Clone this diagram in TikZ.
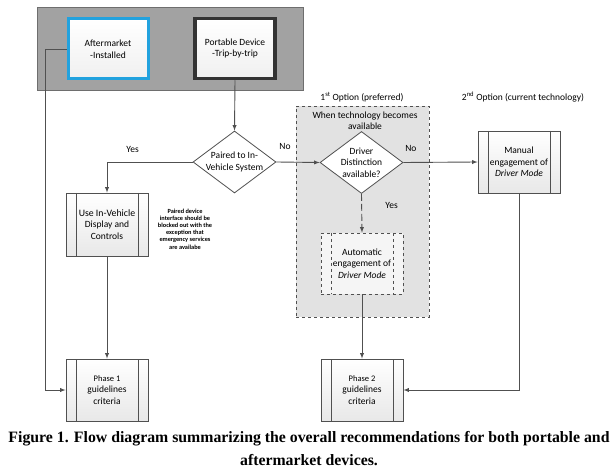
\documentclass[tikz,border=0pt]{standalone}
\usepackage{fontspec}
\setmainfont{Carlito}
\newfontfamily\capfont{Liberation Serif}
\usetikzlibrary{shapes.geometric}

\definecolor{linegray}{HTML}{505050}
\definecolor{darkbox}{HTML}{6E6E6E}
\definecolor{midgray}{HTML}{A2A2A2}
\definecolor{optgray}{HTML}{E2E2E2}
\definecolor{aftblue}{HTML}{22A2DE}

\tikzset{
  every node/.style={font=\fontsize{9.5}{11.5}\selectfont, align=center, text=black},
  procbox/.style={draw=linegray, line width=0.8pt, top color=white, bottom color=black!9,
    minimum width=82pt, minimum height=62pt, inner sep=0pt,
    path picture={
      \draw[linegray, line width=0.8pt] ([xshift=10pt]path picture bounding box.north west) -- ([xshift=10pt]path picture bounding box.south west);
      \draw[linegray, line width=0.8pt] ([xshift=-10pt]path picture bounding box.north east) -- ([xshift=-10pt]path picture bounding box.south east);
    }},
  autobox/.style={draw=linegray, dashed, line width=0.7pt, fill=white!96!black,
    minimum width=82pt, minimum height=61pt, inner sep=0pt,
    path picture={
      \draw[linegray, dashed, line width=0.7pt] ([xshift=10pt]path picture bounding box.north west) -- ([xshift=10pt]path picture bounding box.south west);
      \draw[linegray, dashed, line width=0.7pt] ([xshift=-10pt]path picture bounding box.north east) -- ([xshift=-10pt]path picture bounding box.south east);
    }},
  devbox/.style={top color=white, bottom color=black!6, minimum width=80pt, minimum height=60pt},
  decision/.style={diamond, draw=linegray, line width=0.8pt, fill=white, inner sep=0pt,
    minimum width=83pt, minimum height=62pt},
  flow/.style={->, color=linegray, line width=0.9pt},
}

\begin{document}
\begin{tikzpicture}[x=1pt, y=-1pt, >=latex]
  \useasboundingbox (0,0) rectangle (616,473);

  % devices
  \node[draw=darkbox, fill=midgray, line width=0.8pt, minimum width=266pt, minimum height=83pt] (dev) at (170,48.5) {};
  \node[devbox, draw=aftblue, line width=3pt] (after) at (108,49) {Aftermarket\\-Installed};
  \node[devbox, draw=black!80, line width=3.5pt] (port) at (235,48.5) {Portable Device\\-Trip-by-trip};

  % option labels
  \node (opt1lbl) at (362,97) {1\textsuperscript{st} Option (preferred)};
  \node (opt2lbl) at (523,97) {2\textsuperscript{nd} Option (current technology)};
  \node[draw=linegray, dashed, fill=optgray, line width=0.7pt, minimum width=133pt, minimum height=211pt] (opt1) at (362.5,211.5) {};
  \node (tech) at (365,120.5) {When technology becomes\\available};

  % decisions
  \node[decision, label={[align=center]center:Paired to In-\\Vehicle System}] (paired) at (234.5,162) {};
  \node[decision, label={[align=center]center:Driver\\Distinction\\available?}] (driver) at (361.5,162.5) {};

  % processes
  \node[procbox, minimum height=63pt] (inveh) at (107,224.5) {\fontsize{9.8}{11.5}\selectfont Use In-Vehicle\\Display and\\Controls};
  \node[font=\bfseries\fontsize{6.3}{7.2}\selectfont] (note) at (185,229) {Paired device\\interface should be\\blocked out with the\\exception that\\emergency services\\are availabe};
  \node[procbox] (manual) at (519,162) {Manual\\engagement of\\\textit{Driver Mode}};
  \node[autobox] (auto) at (362,263.5) {Automatic\\engagement of\\\textit{Driver Mode}};
  \node[procbox] (ph1) at (107,390) {\fontsize{8.5}{11}\selectfont Phase 1\\guidelines\\criteria};
  \node[procbox] (ph2) at (362,390) {\fontsize{8.5}{11}\selectfont Phase 2\\guidelines\\criteria};

  % connectors
  \draw[flow] (after.west) -- ++(-21,0) |- (ph1.west);
  \draw[flow] (port.south) -- (paired.north);
  \draw[flow] (paired.west) -| (inveh.north) node[pos=.35, above=6pt]{Yes};
  \draw[flow] (paired.east) -- (driver.west) node[pos=.2, above=9pt]{No};
  \draw[flow] (driver.east) -- (manual.west) node[pos=.1, above=7pt]{No};
  \draw[flow, dash pattern=on 7pt off 3pt] (driver.south) -- (auto.north) node[pos=.3, right=20pt]{Yes};
  \draw[flow] (inveh.south) -- (ph1.north);
  \draw[flow] (auto.south) -- (ph2.north);
  \draw[flow] (manual.south) |- (ph2.east);

  % caption
  \node[font=\capfont\bfseries\fontsize{15.8}{23}\selectfont] (cap) at (309,448.5) {Figure 1. Flow diagram summarizing the overall recommendations for both portable and\\aftermarket devices.};
\end{tikzpicture}
\end{document}
